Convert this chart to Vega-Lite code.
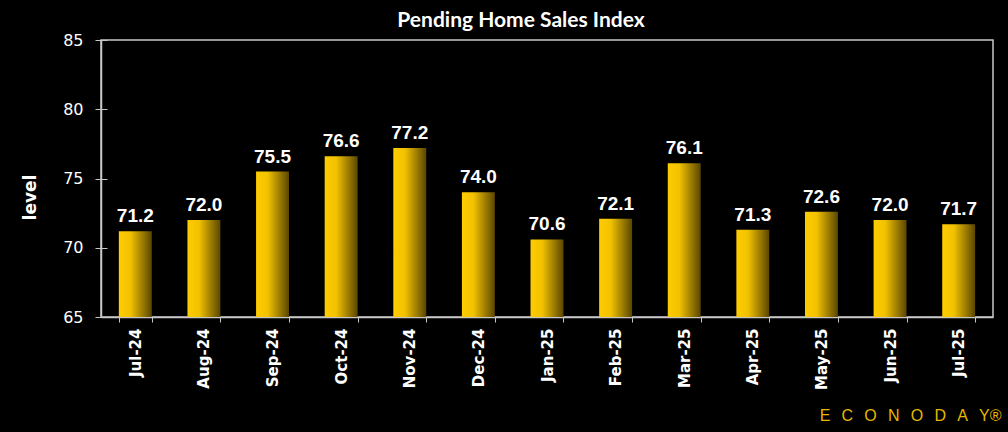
{
  "$schema": "https://vega.github.io/schema/vega-lite/v6.json",
  "width": 892,
  "height": 277,
  "autosize": {"type": "none"},
  "padding": {"left": 101, "top": 40, "right": 15, "bottom": 115},
  "background": "#000000",
  "config": {
    "view": {"stroke": "#c8c8c8", "strokeWidth": 1.5},
    "axis": {"grid": false}
  },
  "title": {
    "text": "Pending Home Sales Index",
    "font": "Lato",
    "fontWeight": "bold",
    "fontSize": 21,
    "color": "#ffffff",
    "frame": "group",
    "anchor": "middle",
    "baseline": "alphabetic",
    "offset": -16,
    "dx": -26
  },
  "data": {
    "values": [
      {"month": "Jul-24", "value": 71.2},
      {"month": "Aug-24", "value": 72.0},
      {"month": "Sep-24", "value": 75.5},
      {"month": "Oct-24", "value": 76.6},
      {"month": "Nov-24", "value": 77.2},
      {"month": "Dec-24", "value": 74.0},
      {"month": "Jan-25", "value": 70.6},
      {"month": "Feb-25", "value": 72.1},
      {"month": "Mar-25", "value": 76.1},
      {"month": "Apr-25", "value": 71.3},
      {"month": "May-25", "value": 72.6},
      {"month": "Jun-25", "value": 72.0},
      {"month": "Jul-25", "value": 71.7}
    ]
  },
  "encoding": {
    "x": {
      "field": "month",
      "type": "nominal",
      "sort": null,
      "scale": {"paddingInner": 0.52, "paddingOuter": 0.26},
      "axis": {
        "labelAngle": -90,
        "labelFont": "DejaVu Sans",
        "labelFontWeight": "bold",
        "labelFontSize": 15,
        "labelColor": "#ffffff",
        "labelPadding": 6,
        "tickSize": 5,
        "tickBand": "extent",
        "tickColor": "#c8c8c8",
        "domainColor": "#c8c8c8",
        "domainWidth": 1.5,
        "title": "E\u2002\u2009C\u2002\u2009O\u2002\u2009N\u2002\u2009O\u2002\u2009D\u2002\u2009A\u2002\u2009Y\u00ae",
        "titleFont": "Liberation Sans",
        "titleFontWeight": "normal",
        "titleFontSize": 16,
        "titleColor": "#e6b800",
        "titleAnchor": "end",
        "titleAlign": "right",
        "titleBaseline": "middle",
        "titleX": 900,
        "titleY": 98
      }
    },
    "y": {
      "field": "value",
      "type": "quantitative",
      "scale": {"domain": [65, 85], "zero": false, "nice": false},
      "axis": {
        "values": [65, 70, 75, 80, 85],
        "labelFont": "DejaVu Sans",
        "labelFontSize": 16,
        "labelColor": "#ffffff",
        "labelPadding": 12,
        "tickSize": 6,
        "tickColor": "#c8c8c8",
        "domainColor": "#c8c8c8",
        "domainWidth": 1.5,
        "title": "level",
        "titleFont": "DejaVu Sans",
        "titleFontWeight": "bold",
        "titleFontSize": 17,
        "titleColor": "#ffffff",
        "titleAngle": -90,
        "titleAlign": "center",
        "titleBaseline": "middle",
        "titleX": -71,
        "titleY": 157
      }
    }
  },
  "layer": [
    {
      "mark": {
        "type": "bar",
        "clip": true,
        "color": {
          "gradient": "linear",
          "x1": 0, "y1": 0, "x2": 1, "y2": 0,
          "stops": [
            {"offset": 0, "color": "#ffcc00"},
            {"offset": 0.35, "color": "#f2c200"},
            {"offset": 1, "color": "#5a4600"}
          ]
        }
      }
    },
    {
      "mark": {
        "type": "text",
        "baseline": "alphabetic",
        "dy": -9,
        "font": "Liberation Sans",
        "fontWeight": "bold",
        "fontSize": 19,
        "color": "#ffffff"
      },
      "encoding": {
        "text": {"field": "value", "type": "quantitative", "format": ".1f"},
        "y": {
          "field": "value",
          "type": "quantitative",
          "axis": {
            "orient": "left",
            "values": [65, 70, 75, 80, 85],
            "labels": false,
            "domain": false,
            "title": null,
            "tickSize": -6,
            "tickColor": "#c8c8c8"
          }
        }
      }
    }
  ],
  "resolve": {"axis": {"y": "independent"}}
}
